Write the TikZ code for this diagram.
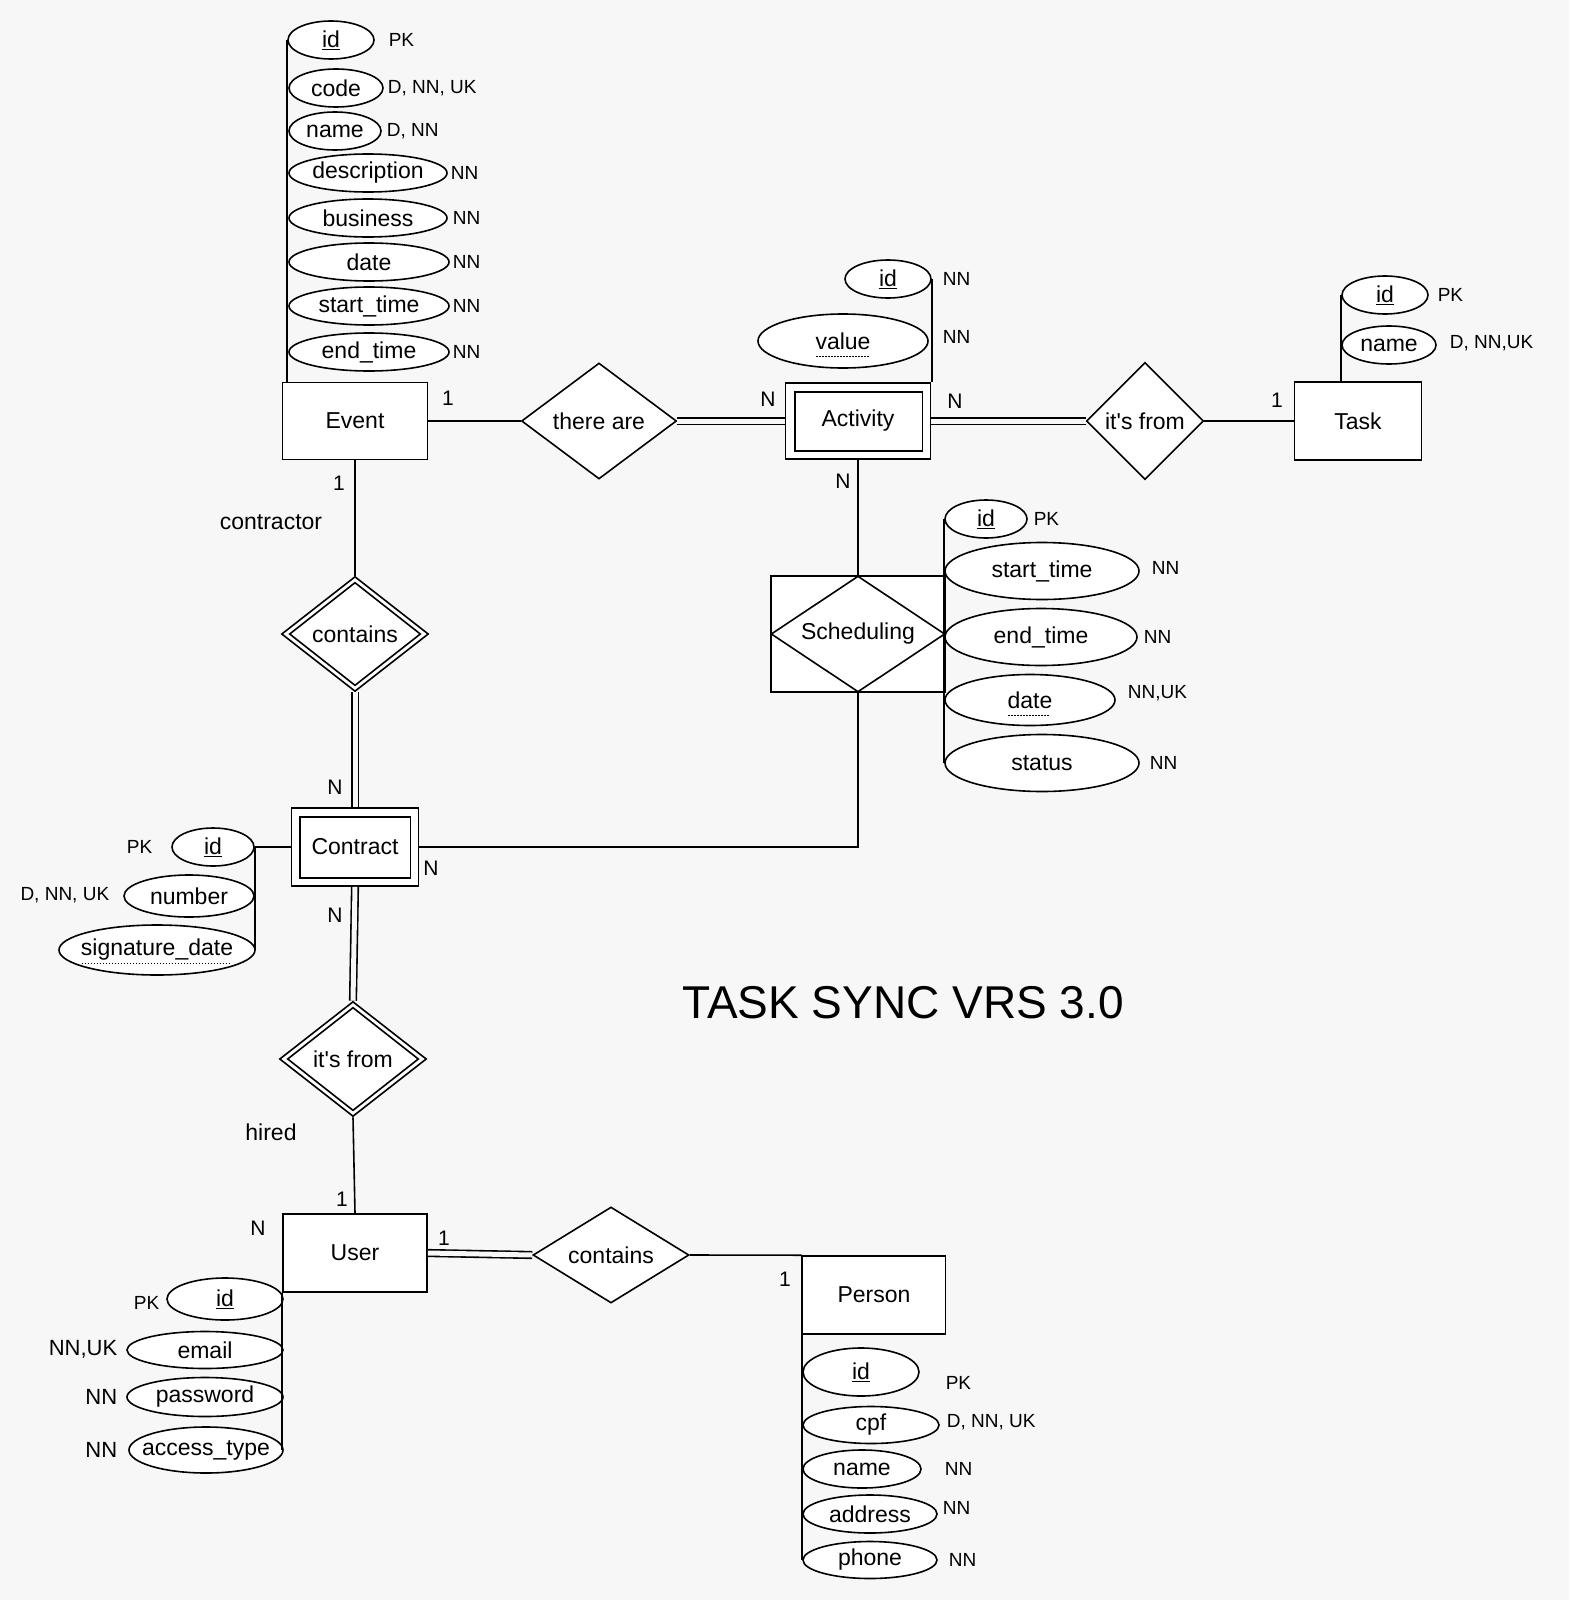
\documentclass[tikz,border=0pt]{standalone}
\usepackage{fontspec}
\setmainfont{Liberation Sans}
\usetikzlibrary{shapes.geometric}
\definecolor{bgc}{RGB}{247,247,247}
\newsavebox\dulbox
\newcommand\dotul[1]{\sbox\dulbox{#1}\rlap{\raisebox{-8pt}[0pt][0pt]{\hbox to \wd\dulbox{\leaders\hbox to 3pt{\hss\vrule width 1.5pt height 1.2pt\hss}\hfill}}}\usebox\dulbox}
\newcommand\fmain{\fontsize{23pt}{27pt}\selectfont}
\newcommand\fcons{\fontsize{19pt}{23pt}\selectfont}
\newcommand\fbig{\fontsize{22pt}{26pt}\selectfont}
\newcommand\fcard{\fontsize{21pt}{25pt}\selectfont}
\newcommand\A[1]{\makebox[0pt]{#1}}
\newcommand\itsfrom{it\textquotesingle s from}
\begin{document}
\begin{tikzpicture}[x=1pt,y=-1pt,line width=1.6pt,
  ent/.style={rectangle,draw,fill=white,inner sep=0pt,font=\fmain},
  attr/.style={ellipse,draw,fill=white,inner sep=0pt,font=\fmain},
  rel/.style={diamond,draw,fill=white,inner sep=0pt,font=\fmain},
  cons/.style={font=\fcons,inner sep=0pt},
  consb/.style={font=\fbig,inner sep=0pt},
  card/.style={font=\fcard,inner sep=0pt},
  lbl/.style={font=\fmain,inner sep=0pt},
  dbl/.style={double=bgc,double distance=5pt},
]
\fill[bgc] (0,0) rectangle (1569,1600);
\useasboundingbox (0,0) rectangle (1569,1600);

% ---------- entities ----------
\node[ent,minimum width=145pt,minimum height=77pt] (ev) at (355,421) {Event};
\node[ent,minimum width=127pt,minimum height=78pt] (task) at (1358,421) {Task};
\node[ent,minimum width=144pt,minimum height=78pt] (us) at (355,1253) {User};
\node[ent,minimum width=143pt,minimum height=78pt] (per) at (874,1295) {Person};
\node[ent,minimum width=145pt,minimum height=76pt] (act) at (858,421) {Activity};
\draw ([xshift=10pt,yshift=-10pt]act.north west) rectangle ([xshift=-9pt,yshift=9pt]act.south east);
\node[ent,minimum width=127pt,minimum height=78pt] (con) at (355,847) {Contract};
\draw ([xshift=9pt,yshift=-10pt]con.north west) rectangle ([xshift=-9pt,yshift=9pt]con.south east);

% ---------- relationships ----------
\node[rel,aspect=1.34,minimum width=155pt,minimum height=116pt] (ta) at (599,421) {there are};
\node[rel,aspect=1,minimum width=117pt,minimum height=117pt] (if1) at (1145,421) {\itsfrom};
\node[ent,minimum width=174pt,minimum height=116pt] (schbox) at (858,634) {};
\node[rel,aspect=1.5,minimum width=174pt,minimum height=116pt] (sch) at (858,634) {Scheduling};
\node[rel,aspect=1.28,minimum width=147pt,minimum height=115pt] (ct) at (355,634) {contains};
\draw ([xshift=9pt]ct.west) -- ([yshift=-7pt]ct.north) -- ([xshift=-9pt]ct.east) -- ([yshift=7pt]ct.south) -- cycle;
\node[rel,aspect=1.28,minimum width=147pt,minimum height=115pt] (if2) at (353,1059) {\itsfrom};
\draw ([xshift=9pt]if2.west) -- ([yshift=-7pt]if2.north) -- ([xshift=-9pt]if2.east) -- ([yshift=7pt]if2.south) -- cycle;
\node[rel,aspect=1.62,minimum width=156pt,minimum height=96pt] (ct2) at (611,1255) {contains};

% ---------- connectors ----------
\draw (ev.east) -- (ta.west);
\draw[dbl] (ta.east) -- (act.west);
\draw[dbl] (act.east) -- (if1.west);
\draw (if1.east) -- (task.west);
\draw (act.south) -- (sch.north);
\draw (con.east) -| (sch.south);
\draw (ev.south) -- (ct.north);
\draw[dbl] (ct.south) -- (con.north);
\draw[dbl] (con.south) -- (if2.north);
\draw (if2.south) -- (us.north);
\draw[dbl] (us.east) -- (ct2.west);
\draw (ct2.east) -- (per.north west);

% ---------- Event attributes ----------
\node[attr,minimum width=86pt,minimum height=38pt] (eid) at (331,40) {\A{\underline{id}}};
\node[attr,minimum width=94pt,minimum height=38pt] (ecode) at (336,88) {\A{code}};
\node[attr,minimum width=92pt,minimum height=38pt] (ename) at (335,131) {\A{name}};
\node[attr,minimum width=158pt,minimum height=38pt] (edesc) at (368,173) {\A{description}};
\node[attr,minimum width=158pt,minimum height=38pt] (ebus) at (368,218) {\A{business}};
\node[attr,minimum width=160pt,minimum height=38pt] (edate) at (369,262) {\A{date}};
\node[attr,minimum width=160pt,minimum height=38pt] (est) at (369,306) {\A{start\_time}};
\node[attr,minimum width=160pt,minimum height=38pt] (eet) at (369,352) {\A{end\_time}};
\draw (eid.west) -- (eid.west |- ev.north);
\node[cons,anchor=west] (l1) at (388,40) {PK};
\node[cons,anchor=west] (l2) at (387,88) {D, NN, UK};
\node[cons,anchor=west] (l3) at (386,131) {D, NN};
\node[cons,anchor=west] (l4) at (450,173) {NN};
\node[cons,anchor=west] (l5) at (452,218) {NN};
\node[cons,anchor=west] (l6) at (452,262) {NN};
\node[cons,anchor=west] (l7) at (452,306) {NN};
\node[cons,anchor=west] (l8) at (452,352) {NN};

% ---------- Activity attributes ----------
\node[attr,minimum width=86pt,minimum height=38pt] (aid) at (888,279) {\A{\underline{id}}};
\node[attr,minimum width=170pt,minimum height=54pt] (aval) at (843,341) {\A{\dotul{value}}};
\draw (aid.east) -- (aid.east |- act.north);
\node[cons,anchor=west] (l9) at (942,279) {NN};
\node[cons,anchor=west] (l10) at (942,337) {NN};

% ---------- Task attributes ----------
\node[attr,minimum width=86pt,minimum height=38pt] (tid) at (1385,295) {\A{\underline{id}}};
\node[attr,minimum width=94pt,minimum height=38pt] (tname) at (1389,345) {\A{name}};
\draw (tid.west) -- (tid.west |- task.north);
\node[cons,anchor=west] (l11) at (1437,295) {PK};
\node[cons,anchor=west] (l12) at (1449,343) {D, NN,UK};

% ---------- Scheduling attributes ----------
\node[attr,minimum width=82pt,minimum height=38pt] (sid) at (986,519) {\A{\underline{id}}};
\node[attr,minimum width=194pt,minimum height=57pt] (sst) at (1042,571) {\A{start\_time}};
\node[attr,minimum width=192pt,minimum height=57pt] (set) at (1041,637) {\A{end\_time}};
\node[attr,minimum width=170pt,minimum height=51pt] (sdate) at (1030,700) {\A{\dotul{date}}};
\node[attr,minimum width=194pt,minimum height=57pt] (sstat) at (1042,763) {\A{status}};
\draw (sid.west) -- (sstat.west);
\node[cons,anchor=west] (l13) at (1033,519) {PK};
\node[cons,anchor=west] (l14) at (1151,568) {NN};
\node[cons,anchor=west] (l15) at (1143,637) {NN};
\node[cons,anchor=west] (l16) at (1127,693) {NN,UK};
\node[cons,anchor=west] (l17) at (1149,763) {NN};

% ---------- Contract attributes ----------
\node[attr,minimum width=82pt,minimum height=38pt] (cid) at (213,847) {\A{\underline{id}}};
\node[attr,minimum width=130pt,minimum height=42pt] (cnum) at (189,896) {\A{number}};
\node[attr,minimum width=196pt,minimum height=50pt] (csd) at (157,950) {\A{\dotul{signature\_date}}};
\draw (cid.east) -- (con.west);
\draw (cid.east) -- (cid.east |- csd.east);
\node[cons,anchor=east] (l18) at (153,847) {PK};
\node[cons,anchor=east] (l19) at (110,895) {D, NN, UK};

% ---------- User attributes ----------
\node[attr,minimum width=116pt,minimum height=42pt] (uid) at (225,1299) {\A{\underline{id}}};
\node[attr,minimum width=156pt,minimum height=37pt] (uem) at (205,1350) {\A{email}};
\node[attr,minimum width=156pt,minimum height=39pt] (upw) at (205,1397) {\A{password}};
\node[attr,minimum width=154pt,minimum height=46pt] (uat) at (206,1450) {\A{access\_type}};
\draw (us.south west) -- (us.south west |- uat.east);
\node[cons,anchor=east] (l20) at (160,1303) {PK};
\node[consb,anchor=east] (l21) at (118,1349) {NN,UK};
\node[consb,anchor=east] (l22) at (118,1397) {NN};
\node[consb,anchor=east] (l23) at (118,1450) {NN};

% ---------- Person attributes ----------
\node[attr,minimum width=116pt,minimum height=48pt] (pid) at (861,1372) {\A{\underline{id}}};
\node[attr,minimum width=136pt,minimum height=37pt] (pcpf) at (871,1425) {\A{cpf}};
\node[attr,minimum width=118pt,minimum height=38pt] (pname) at (862,1469) {\A{name}};
\node[attr,minimum width=134pt,minimum height=38pt] (padd) at (870,1514) {\A{address}};
\node[attr,minimum width=134pt,minimum height=37pt] (pph) at (870,1560) {\A{phone}};
\draw (per.north west) -- (per.north west |- pph.west);
\node[cons,anchor=west] (l24) at (945,1383) {PK};
\node[cons,anchor=west] (l25) at (946,1422) {D, NN, UK};
\node[cons,anchor=west] (l26) at (944,1469) {NN};
\node[cons,anchor=west] (l27) at (942,1508) {NN};
\node[cons,anchor=west] (l28) at (948,1560) {NN};

% ---------- cardinalities and role names ----------
\node[card] (c1) at (448,398) {1};
\node[card] (c2) at (768,399) {N};
\node[card] (c3) at (955,401) {N};
\node[card] (c4) at (1277,400) {1};
\node[card] (c5) at (843,481) {N};
\node[card] (c6) at (339,483) {1};
\node[lbl] (r1) at (271,522) {contractor};
\node[card] (c7) at (335,787) {N};
\node[card] (c8) at (431,868) {N};
\node[card] (c9) at (335,915) {N};
\node[lbl] (r2) at (271,1132) {hired};
\node[card] (c10) at (342,1199) {1};
\node[card] (c11) at (258,1228) {N};
\node[card] (c12) at (444,1238) {1};
\node[card] (c13) at (785,1279) {1};

% ---------- title ----------
\node[font=\fontsize{46pt}{54pt}\selectfont,inner sep=0pt] (title) at (903,1003) {TASK SYNC VRS 3.0};
\end{tikzpicture}
\end{document}
